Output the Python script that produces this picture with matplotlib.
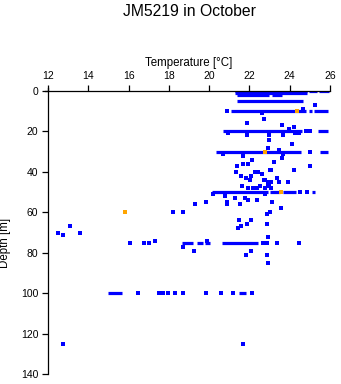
import matplotlib
matplotlib.use("Agg")
import matplotlib.pyplot as plt

plt.rcParams['font.family'] = ['Liberation Sans', 'DejaVu Sans']

# Dense runs of measurements: depth [m], temperature start, temperature end
run_depth = [0, 0, 0, 1, 2, 2, 5, 10, 10, 10, 20, 20, 30, 30, 50, 50, 50, 50,
             75, 75, 75, 75, 100, 100]
run_t0 = [21.30, 24.97, 25.47, 21.30, 21.39, 23.13, 21.39, 21.10, 24.97, 25.22, 20.70, 25.42,
          20.35, 25.52, 20.15, 23.03, 23.68, 25.12, 18.67, 19.41, 19.81, 20.65, 14.99, 21.49]
run_t1 = [24.87, 25.37, 25.96, 24.87, 22.98, 23.63, 24.67, 24.82, 25.12, 25.91, 24.62, 25.91,
          24.57, 25.91, 22.93, 23.53, 24.32, 25.27, 19.21, 19.71, 20.06, 22.44, 15.69, 21.84]

# Individual measurements (blue)
temp = [25.27, 24.67, 22.64, 22.74, 21.89, 23.63, 24.22, 23.98, 20.90, 24.82, 25.02,
        20.95, 21.89, 22.98, 23.68, 24.27, 24.47, 22.98, 24.12, 25.02, 20.70, 22.93,
        23.48, 23.68, 21.69, 22.14, 21.69, 21.94, 21.39, 21.34, 21.59, 21.84, 22.09,
        22.04, 22.29, 22.44, 22.64, 22.79, 22.93, 23.03, 23.23, 23.63, 25.02, 24.22,
        23.08, 23.38, 23.48, 23.93, 23.08, 23.08, 21.64, 21.94, 22.29, 22.54, 22.79,
        22.19, 22.39, 22.93, 22.98, 22.74, 24.52, 24.87,
        20.20, 20.80, 21.30, 21.79, 22.79, 20.90, 20.90, 21.54, 21.94, 22.39, 23.13,
        19.31, 19.86, 18.72, 18.22, 23.58, 23.03, 22.88, 21.49, 22.09, 22.88, 21.89,
        21.59, 21.44, 22.93, 17.32, 12.51, 12.76, 13.11, 13.60, 16.08, 16.78, 17.03,
        22.69, 22.88, 23.38, 24.47, 18.72, 19.91, 19.26, 22.09, 21.84, 22.88, 22.93,
        16.48, 17.52, 17.72, 17.97, 18.32, 18.72, 19.86, 20.60, 21.20, 22.14,
        12.76, 21.69]
depth = [7, 9, 11, 14, 16, 17, 18, 19, 10, 20, 20,
         21, 22, 22, 22, 21, 21, 24, 26, 30, 31, 28,
         29, 31, 32, 34, 36, 36, 37, 40, 42, 43, 42,
         44, 40, 40, 41, 44, 45, 39, 35, 33, 37, 39,
         39, 43, 45, 45, 45, 48, 47, 48, 48, 47, 48,
         48, 48, 47, 47, 44, 50, 50,
         51, 52, 53, 53, 51, 55, 56, 56, 54, 54, 55,
         56, 55, 60, 60, 58, 60, 61, 64, 64, 66, 66,
         67, 68, 72, 74, 70, 71, 67, 70, 75, 75, 75,
         75, 75, 75, 75, 77, 74, 79, 79, 81, 81, 85,
         100, 100, 100, 100, 100, 100, 100, 100, 100, 100,
         125, 125]

# Flagged measurements (orange)
flag_temp = [24.37, 22.79, 23.55, 15.84]
flag_depth = [10, 30, 50, 60]

BLUE = '#0000FF'
ORANGE = '#FFA500'

fig = plt.figure(figsize=(3.41, 3.84), dpi=100)
ax = fig.add_axes([48/341, 1-374/384, (330-48)/341, (374-91)/384])

ax.hlines(run_depth, run_t0, run_t1, colors=BLUE, linewidth=2.3, capstyle='butt')
ax.scatter(temp, depth, s=5, marker='s', color=BLUE, linewidths=0)
ax.scatter(flag_temp, flag_depth, s=5, marker='s', color=ORANGE, linewidths=0, zorder=3)

ax.set_xlim(12, 26)
ax.set_ylim(140, 0)
ax.set_xticks([12, 14, 16, 18, 20, 22, 24, 26])
ax.set_yticks([0, 20, 40, 60, 80, 100, 120, 140])

ax.xaxis.tick_top()
ax.xaxis.set_label_position('top')
ax.spines['right'].set_visible(False)
ax.spines['bottom'].set_visible(False)
ax.spines['left'].set_bounds(-1.5, 140)
ax.spines['top'].set_bounds(11.85, 26)
for s in ('left', 'top'):
    ax.spines[s].set_linewidth(0.9)
ax.tick_params(axis='both', direction='out', length=4, width=0.9, labelsize=7.5, pad=3)
ax.set_xlabel('Temperature [°C]', fontsize=8.3, labelpad=4)
ax.set_ylabel('Depth [m]', fontsize=8.3)
ax.yaxis.set_label_coords(-0.132, 0.463)

fig.text(190/341, 1-11/384, 'JM5219 in October', ha='center', va='center', fontsize=11.3)

fig.savefig('out.png', dpi=100)
